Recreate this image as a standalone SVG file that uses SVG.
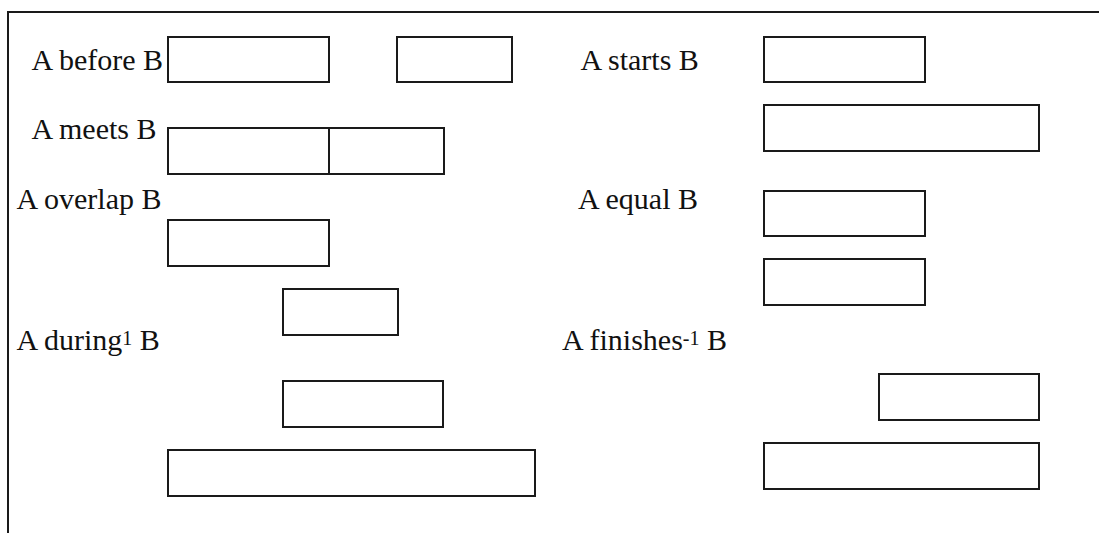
<svg xmlns="http://www.w3.org/2000/svg" width="1099" height="533" viewBox="0 0 1099 533">
  <style>
    .bar { fill: #ffffff; stroke: #1a1a1a; stroke-width: 2; }
    .frame { fill: none; stroke: #1a1a1a; stroke-width: 2; }
    .lbl { font-family: "Liberation Serif", "Times New Roman", serif; font-size: 30px; fill: #111111; }
    .sup { font-size: 20px; }
  </style>
  <rect x="0" y="0" width="1099" height="533" fill="#ffffff"/>
  <path class="frame" d="M8,533 V12 H1099"/>

  <g id="before">
    <text class="lbl" x="31.5" y="70">A before B</text>
    <rect class="bar" x="168" y="37" width="161" height="45"/>
    <rect class="bar" x="397" y="37" width="115" height="45"/>
  </g>

  <g id="meets">
    <text class="lbl" x="31.5" y="139">A meets B</text>
    <rect class="bar" x="168" y="128" width="161" height="46"/>
    <rect class="bar" x="329" y="128" width="115" height="46"/>
  </g>

  <g id="overlap">
    <text class="lbl" x="16.5" y="209">A overlap B</text>
    <rect class="bar" x="168" y="220" width="161" height="46"/>
    <rect class="bar" x="283" y="289" width="115" height="46"/>
  </g>

  <g id="during">
    <text class="lbl" x="16.5" y="350">A during<tspan class="sup" dy="-5">1</tspan><tspan dy="5"> B</tspan></text>
    <rect class="bar" x="283" y="381" width="160" height="46"/>
    <rect class="bar" x="168" y="450" width="367" height="46"/>
  </g>

  <g id="starts">
    <text class="lbl" x="580.5" y="69.5">A starts B</text>
    <rect class="bar" x="764" y="37" width="161" height="45"/>
    <rect class="bar" x="764" y="105" width="275" height="46"/>
  </g>

  <g id="equal">
    <text class="lbl" x="578" y="209">A equal B</text>
    <rect class="bar" x="764" y="191" width="161" height="45"/>
    <rect class="bar" x="764" y="259" width="161" height="46"/>
  </g>

  <g id="finishes">
    <text class="lbl" x="562" y="350">A finishes<tspan class="sup" dy="-5">-1</tspan><tspan dy="5"> B</tspan></text>
    <rect class="bar" x="879" y="374" width="160" height="46"/>
    <rect class="bar" x="764" y="443" width="275" height="46"/>
  </g>

  <g id="connectors"/>
</svg>
